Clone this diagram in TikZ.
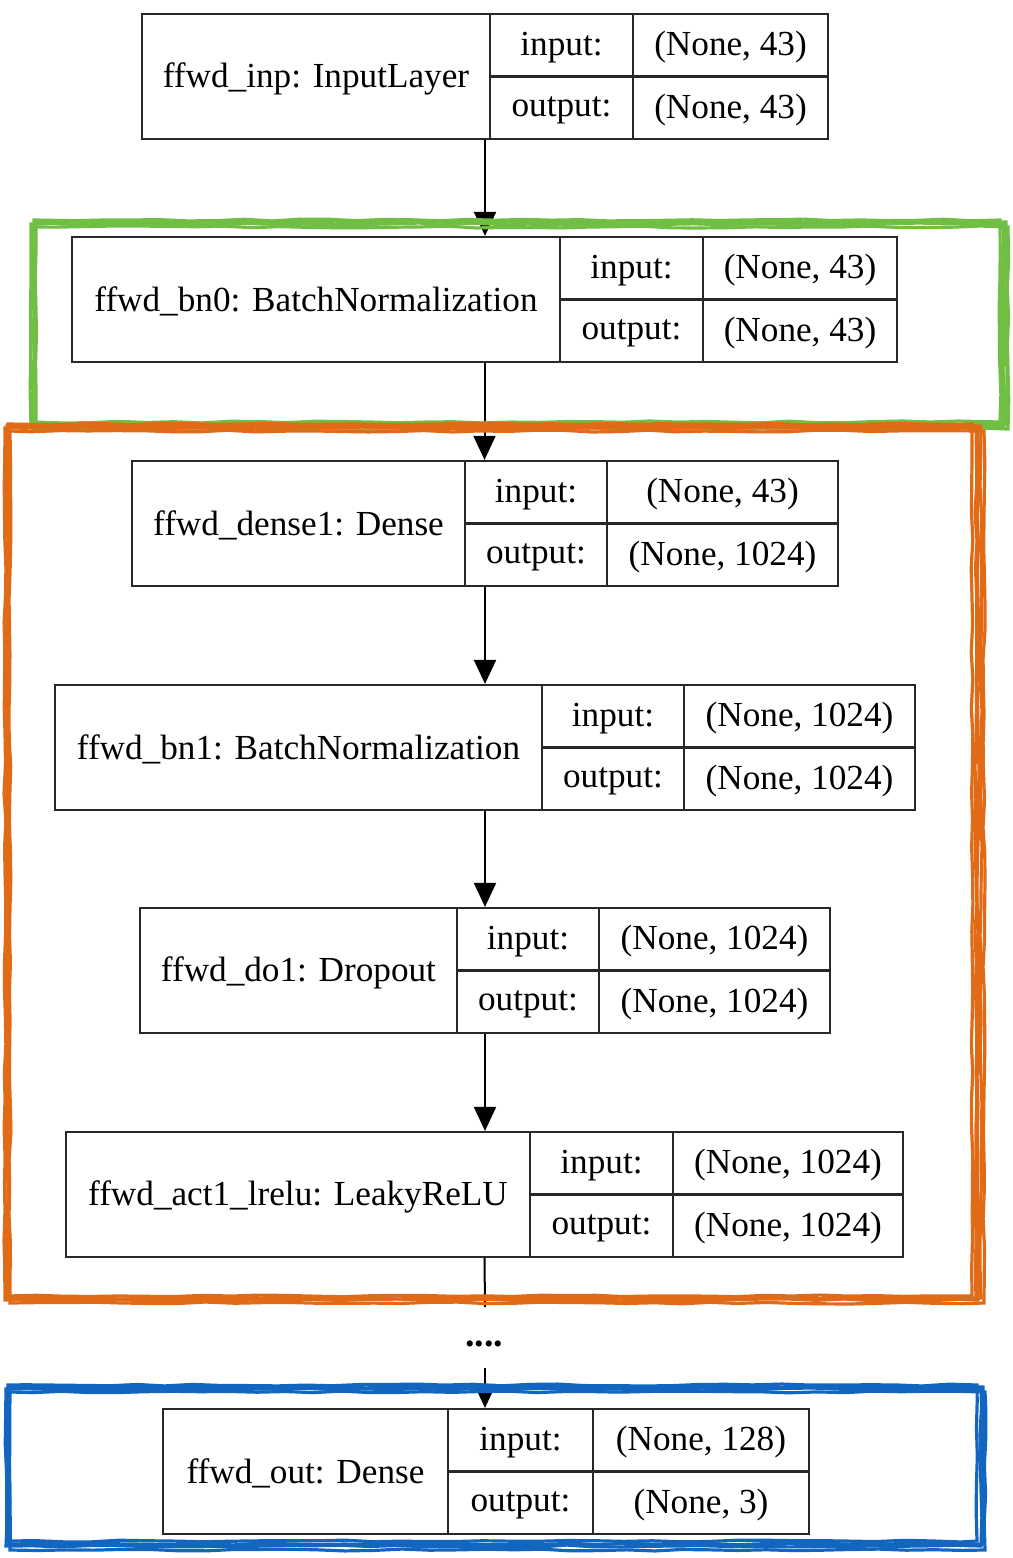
\documentclass[tikz,border=0pt]{standalone}
\usepackage{fontspec}
\setmainfont{Liberation Serif}
\usetikzlibrary{arrows.meta,fit,decorations.pathmorphing}
\definecolor{sgreen}{RGB}{112,190,68}
\definecolor{sorange}{RGB}{224,106,22}
\definecolor{sblue}{RGB}{18,102,192}
\definecolor{lineg}{RGB}{40,40,40}
\newcommand{\layerbox}[9]{%
  \pgfmathsetmacro\lbYb{#4+125}\pgfmathsetmacro\lbYm{#4+62.5}%
  \pgfmathsetmacro\lbYn{#4+64.5}%
  \pgfmathsetmacro\lbXl{(#2+#5)/2}\pgfmathsetmacro\lbXi{(#5+#6)/2}\pgfmathsetmacro\lbXs{(#6+#3)/2}%
  \pgfmathsetmacro\lbYi{#4+33.5}\pgfmathsetmacro\lbYo{#4+96}%
  \node[layer, fit={(#2,#4)(#3,\lbYb)}] (#1) {};
  \draw[cell] (#5,#4) -- (#5,\lbYb) (#6,#4) -- (#6,\lbYb) (#5,\lbYm) -- (#3,\lbYm);
  \node[txt] (#1-name) at (\lbXl,\lbYn) {#7};
  \node[txt] (#1-inl) at (\lbXi,\lbYi) {input:};
  \node[txt] (#1-outl) at (\lbXi,\lbYo) {output:};
  \node[txt] (#1-ins) at (\lbXs,\lbYi) {#8};
  \node[txt] (#1-outs) at (\lbXs,\lbYo) {#9};
}
\begin{document}
\begin{tikzpicture}[x=0.5pt,y=-0.5pt,
  layer/.style={draw=lineg, line width=1.1pt, inner sep=0pt, fill=none},
  cell/.style={draw=lineg, line width=1.1pt},
  txt/.style={inner sep=0pt, font=\fontsize{17.6}{20}\selectfont},
  arr/.style={draw=black, line width=1pt, -{Triangle[width=11pt,length=12pt]}},
  plain/.style={draw=black, line width=1pt},
  sk/.style={line width=1.6pt, decorate, decoration={random steps,segment length=14pt,amplitude=0.5pt}}]
\useasboundingbox (0,0) rectangle (1012,1558);
\layerbox{inp}{142}{828}{14}{490}{633}{ffwd\_inp: InputLayer}{(None, 43)}{(None, 43)}
\layerbox{bn0}{72}{897}{237}{560}{703}{ffwd\_bn0: BatchNormalization}{(None, 43)}{(None, 43)}
\layerbox{dense1}{132}{838}{461}{465}{607}{ffwd\_dense1: Dense}{(None, 43)}{(None, 1024)}
\layerbox{bn1}{55}{915}{685}{542}{684}{ffwd\_bn1: BatchNormalization}{(None, 1024)}{(None, 1024)}
\layerbox{do1}{140}{830}{908}{457}{599}{ffwd\_do1: Dropout}{(None, 1024)}{(None, 1024)}
\layerbox{act1}{66}{903}{1132}{530}{673}{ffwd\_act1\_lrelu: LeakyReLU}{(None, 1024)}{(None, 1024)}
\layerbox{out}{163}{809}{1409}{448}{593}{ffwd\_out: Dense}{(None, 128)}{(None, 3)}
% connectors
\draw[arr] (inp.south) -- (inp.south |- bn0.north);
\draw[arr] (bn0.south) -- (bn0.south |- dense1.north);
\draw[arr] (dense1.south) -- (dense1.south |- bn1.north);
\draw[arr] (bn1.south) -- (bn1.south |- do1.north);
\draw[arr] (do1.south) -- (do1.south |- act1.north);
\coordinate (cut1) at (485,1307);
\coordinate (cut2) at (485,1368);
\draw[plain] (act1.south) -- (cut1);
\node[inner sep=0pt, font=\bfseries\fontsize{19}{20}\selectfont] (dots) at (484,1344) {....};
\draw[arr] (cut2) -- (cut2 |- out.north);
% sketchy group frames
\foreach \a/\b/\c/\d in {34/220/1000/422, 31/224/1004/426, 33/227/1008/429, 36/222/1006/424}
  \draw[sk, sgreen] (\a,\b) rectangle (\c,\d);
\draw[sk, sgreen] (1003,224) -- (1003,426);
\foreach \a/\b/\c/\d in {8/424/972/1296, 5/428/978/1300, 10/431/984/1303, 7/426/981/1298}
  \draw[sk, sorange] (\a,\b) rectangle (\c,\d);
\draw[sk, sorange] (976,428) -- (976,1300);
\foreach \a/\b/\c/\d in {8/1385/977/1541, 6/1389/981/1546, 10/1392/985/1550, 9/1387/983/1544}
  \draw[sk, sblue] (\a,\b) rectangle (\c,\d);
\end{tikzpicture}
\end{document}
